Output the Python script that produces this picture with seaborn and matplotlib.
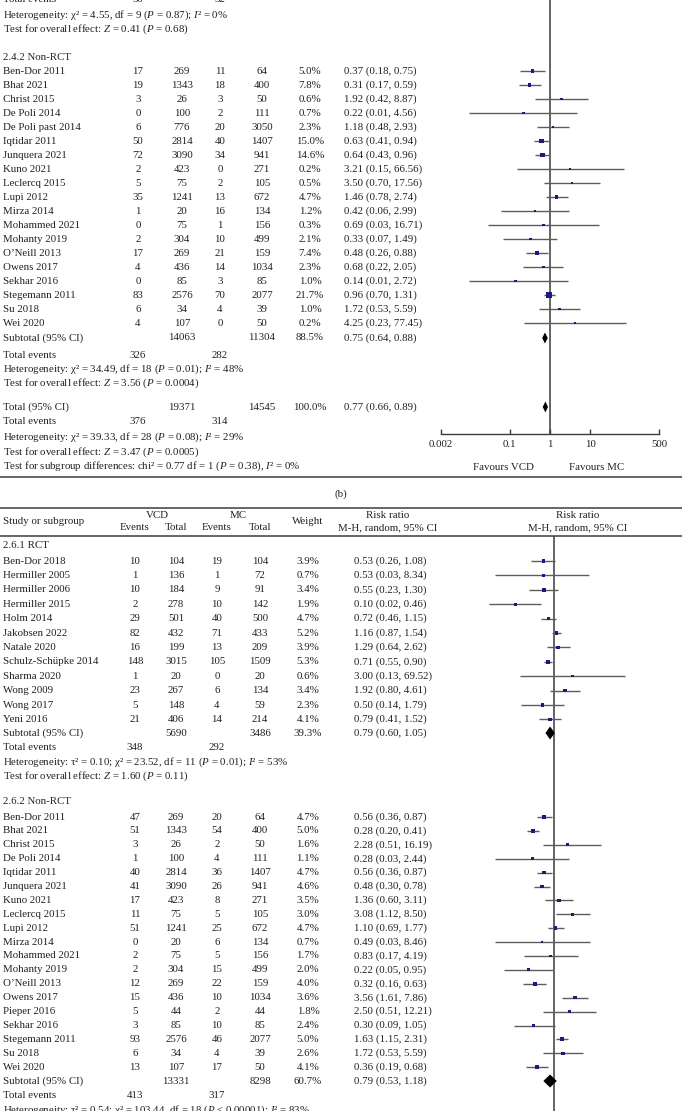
import numpy as np
import pandas as pd
import matplotlib
matplotlib.use("Agg")
import matplotlib.pyplot as plt
import seaborn as sns

# ---------------- DATA ----------------
# Panel (b): 2.4.2 Non-RCT
b_names = ["Ben-Dor 2011", "Bhat 2021", "Christ 2015", "De Poli 2014", "De Poli past 2014",
           "Iqtidar 2011", "Junquera 2021", "Kuno 2021", "Leclercq 2015", "Lupi 2012",
           "Mirza 2014", "Mohammed 2021", "Mohanty 2019", "O\u2019Neill 2013", "Owens 2017",
           "Sekhar 2016", "Stegemann 2011", "Su 2018", "Wei 2020"]
b_vcd_ev = [17, 19, 3, 0, 6, 50, 72, 2, 5, 35, 1, 0, 2, 17, 4, 0, 83, 6, 4]
b_vcd_tot = [269, 1343, 26, 100, 776, 2814, 3090, 423, 75, 1241, 20, 75, 304, 269, 436, 85, 2576, 34, 107]
b_mc_ev = [11, 18, 3, 2, 20, 40, 34, 0, 2, 13, 16, 1, 10, 21, 14, 3, 70, 4, 0]
b_mc_tot = [64, 400, 50, 111, 3050, 1407, 941, 271, 105, 672, 134, 156, 499, 159, 1034, 85, 2077, 39, 50]
b_weight = [5.0, 7.8, 0.6, 0.7, 2.3, 15.0, 14.6, 0.2, 0.5, 4.7, 1.2, 0.3, 2.1, 7.4, 2.3, 1.0, 21.7, 1.0, 0.2]
b_rr = [0.37, 0.31, 1.92, 0.22, 1.18, 0.63, 0.64, 3.21, 3.50, 1.46, 0.42, 0.69, 0.33, 0.48, 0.68, 0.14, 0.96, 1.72, 4.25]
b_lo = [0.18, 0.17, 0.42, 0.01, 0.48, 0.41, 0.43, 0.15, 0.70, 0.78, 0.06, 0.03, 0.07, 0.26, 0.22, 0.01, 0.70, 0.53, 0.23]
b_hi = [0.75, 0.59, 8.87, 4.56, 2.93, 0.94, 0.96, 66.56, 17.56, 2.74, 2.99, 16.71, 1.49, 0.88, 2.05, 2.72, 1.31, 5.59, 77.45]
b_sub = dict(vcd_tot=14063, mc_tot=11304, weight="88.5%", rr=0.75, lo=0.64, hi=0.88, ev1=326, ev2=282)
b_total = dict(vcd_tot=19371, mc_tot=14545, weight="100.0%", rr=0.77, lo=0.66, hi=0.89, ev1=376, ev2=314)
b_ticks = [0.002, 0.1, 1, 10, 500]
b_ticklabels = ["0.002", "0.1", "1", "10", "500"]

# Panel (c): 2.6.1 RCT
c1_names = ["Ben-Dor 2018", "Hermiller 2005", "Hermiller 2006", "Hermiller 2015", "Holm 2014",
            "Jakobsen 2022", "Natale 2020", "Schulz-Sch\u00fcpke 2014", "Sharma 2020", "Wong 2009",
            "Wong 2017", "Yeni 2016"]
c1_vcd_ev = [10, 1, 10, 2, 29, 82, 16, 148, 1, 23, 5, 21]
c1_vcd_tot = [104, 136, 184, 278, 501, 432, 199, 3015, 20, 267, 148, 406]
c1_mc_ev = [19, 1, 9, 10, 40, 71, 13, 105, 0, 6, 4, 14]
c1_mc_tot = [104, 72, 91, 142, 500, 433, 209, 1509, 20, 134, 59, 214]
c1_weight = [3.9, 0.7, 3.4, 1.9, 4.7, 5.2, 3.9, 5.3, 0.6, 3.4, 2.3, 4.1]
c1_rr = [0.53, 0.53, 0.55, 0.10, 0.72, 1.16, 1.29, 0.71, 3.00, 1.92, 0.50, 0.79]
c1_lo = [0.26, 0.03, 0.23, 0.02, 0.46, 0.87, 0.64, 0.55, 0.13, 0.80, 0.14, 0.41]
c1_hi = [1.08, 8.34, 1.30, 0.46, 1.15, 1.54, 2.62, 0.90, 69.52, 4.61, 1.79, 1.52]
c1_sub = dict(vcd_tot=5690, mc_tot=3486, weight="39.3%", rr=0.79, lo=0.60, hi=1.05, ev1=348, ev2=292)

# Panel (c): 2.6.2 Non-RCT
c2_names = ["Ben-Dor 2011", "Bhat 2021", "Christ 2015", "De Poli 2014", "Iqtidar 2011",
            "Junquera 2021", "Kuno 2021", "Leclercq 2015", "Lupi 2012", "Mirza 2014",
            "Mohammed 2021", "Mohanty 2019", "O\u2019Neill 2013", "Owens 2017", "Pieper 2016",
            "Sekhar 2016", "Stegemann 2011", "Su 2018", "Wei 2020"]
c2_vcd_ev = [47, 51, 3, 1, 40, 41, 17, 11, 51, 0, 2, 2, 12, 15, 5, 3, 93, 6, 13]
c2_vcd_tot = [269, 1343, 26, 100, 2814, 3090, 423, 75, 1241, 20, 75, 304, 269, 436, 44, 85, 2576, 34, 107]
c2_mc_ev = [20, 54, 2, 4, 36, 26, 8, 5, 25, 6, 5, 15, 22, 10, 2, 10, 46, 4, 17]
c2_mc_tot = [64, 400, 50, 111, 1407, 941, 271, 105, 672, 134, 156, 499, 159, 1034, 44, 85, 2077, 39, 50]
c2_weight = [4.7, 5.0, 1.6, 1.1, 4.7, 4.6, 3.5, 3.0, 4.7, 0.7, 1.7, 2.0, 4.0, 3.6, 1.8, 2.4, 5.0, 2.6, 4.1]
c2_rr = [0.56, 0.28, 2.28, 0.28, 0.56, 0.48, 1.36, 3.08, 1.10, 0.49, 0.83, 0.22, 0.32, 3.56, 2.50, 0.30, 1.63, 1.72, 0.36]
c2_lo = [0.36, 0.20, 0.51, 0.03, 0.36, 0.30, 0.60, 1.12, 0.69, 0.03, 0.17, 0.05, 0.16, 1.61, 0.51, 0.09, 1.15, 0.53, 0.19]
c2_hi = [0.87, 0.41, 16.19, 2.44, 0.87, 0.78, 3.11, 8.50, 1.77, 8.46, 4.19, 0.95, 0.63, 7.86, 12.21, 1.05, 2.31, 5.59, 0.68]
c2_sub = dict(vcd_tot=13331, mc_tot=8298, weight="60.7%", rr=0.79, lo=0.53, hi=1.18, ev1=413, ev2=317)

# ---------------- STYLE ----------------
sns.set_theme(style="white")
plt.rcParams["font.family"] = ["Liberation Serif", "DejaVu Serif"]
plt.rcParams["mathtext.fontset"] = "custom"
plt.rcParams["mathtext.rm"] = "Liberation Serif"
plt.rcParams["mathtext.it"] = "Liberation Serif:italic"
TXT = "#231f20"
FS = 7.8
LINE = "#5c5c5c"
SQ = "#1c1c78"
RULE = "#5a5a5a"

fig = plt.figure(figsize=(6.82, 11.11), dpi=100)
W, H = 682.0, 1111.0
lay = fig.add_axes([0, 0, 1, 1])
lay.set_xlim(0, W)
lay.set_ylim(H, 0)
lay.axis("off")


def t(x, y, s, ha="left", fs=FS, **kw):
    lay.text(x, y, s, ha=ha, va="center", fontsize=fs, color=TXT, **kw)


def ci_str(r, l, h):
    return f"{r:.2f} ({l:.2f}, {h:.2f})"


def forest_axes(x0, x1, y0, y1, xlim):
    ax = fig.add_axes([x0 / W, 1 - y1 / H, (x1 - x0) / W, (y1 - y0) / H])
    ax.set_xscale("log")
    ax.set_xlim(*xlim)
    ax.set_ylim(y1, y0)
    ax.set_facecolor("none")
    for s in ["top", "left", "right", "bottom"]:
        ax.spines[s].set_visible(False)
    ax.tick_params(which="both", left=False, bottom=False, labelleft=False, labelbottom=False)
    ax.minorticks_off()
    ax.axvline(1, color="#3a3a3a", lw=1.1, zorder=1)
    return ax


def study_rows(ax, ys, names, e1, n1, e2, n2, w, rr, lo, hi, cols, size_rng, size_norm):
    for i, y in enumerate(ys):
        t(3, y, names[i])
        t(cols[0], y, str(e1[i]), ha="center")
        t(cols[1], y, str(n1[i]), ha="center")
        t(cols[2], y, str(e2[i]), ha="center")
        t(cols[3], y, str(n2[i]), ha="center")
        t(cols[4], y, f"{w[i]:.1f}%", ha="center")
        t(cols[5], y, ci_str(rr[i], lo[i], hi[i]))
    df = pd.DataFrame({"rr": rr, "y": ys, "w": w, "lo": lo, "hi": hi})
    ax.hlines(df["y"], df["lo"], df["hi"], color=LINE, lw=1.0, zorder=2)
    sns.scatterplot(data=df, x="rr", y="y", size="w", sizes=size_rng, size_norm=size_norm,
                    marker="s", color=SQ, edgecolor="none", legend=False, ax=ax, zorder=3)
    ax.set_xlabel("")
    ax.set_ylabel("")


def diamond(ax, y, r, l, h, half):
    ax.fill([l, r, h, r], [y, y - half, y, y + half], color="black", zorder=4, lw=0)


def subtotal_row(ax, y, sub, cols, label="Subtotal (95% CI)", half=5):
    t(3, y, label)
    t(cols[1], y, str(sub["vcd_tot"]), ha="center")
    t(cols[3], y, str(sub["mc_tot"]), ha="center")
    t(cols[4], y, sub["weight"], ha="center")
    t(cols[5], y, ci_str(sub["rr"], sub["lo"], sub["hi"]))
    diamond(ax, y, sub["rr"], sub["lo"], sub["hi"], half)


def events_row(y, a, b, cols):
    t(3, y, "Total events")
    t(cols[0], y, str(a), ha="center")
    t(cols[2], y, str(b), ha="center")


# ---------------- PANEL (b) ----------------
colsb = [138, 182, 220, 262, 310, 344]
axb = forest_axes(441, 659, -2, 434, (0.002, 500))
axb.spines["bottom"].set_visible(True)
axb.spines["bottom"].set_color("#3a3a3a")
axb.spines["bottom"].set_linewidth(1.0)
axb.set_xticks(b_ticks)
axb.set_xticklabels(b_ticklabels)
axb.tick_params(axis="x", which="major", bottom=True, labelbottom=True, direction="in",
                length=3.5, width=1.0, color="#3a3a3a", labelsize=FS, labelcolor=TXT, pad=4)
axb.minorticks_off()

events_row(0, 50, 32, colsb)
t(3, 15, "Heterogeneity: χ² = 4.55, df = 9 ($P$ = 0.87); $I$² = 0%")
t(3, 29, "Test for overall effect: $Z$ = 0.41 ($P$ = 0.68)")
t(3, 57, "2.4.2 Non-RCT")
yb = [71 + 14.0 * i for i in range(len(b_names))]
study_rows(axb, yb, b_names, b_vcd_ev, b_vcd_tot, b_mc_ev, b_mc_tot, b_weight, b_rr, b_lo, b_hi,
           colsb, (2.0, 17.0), (0, 22))
subtotal_row(axb, 338, b_sub, colsb, half=5.5)
events_row(355, b_sub["ev1"], b_sub["ev2"], colsb)
t(3, 369, "Heterogeneity: χ² = 34.49, df = 18 ($P$ = 0.01); $I$² = 48%")
t(3, 383, "Test for overall effect: $Z$ = 3.56 ($P$ = 0.0004)")
subtotal_row(axb, 407, b_total, colsb, label="Total (95% CI)", half=5.5)
events_row(422, b_total["ev1"], b_total["ev2"], colsb)
t(3, 437, "Heterogeneity: χ² = 39.33, df = 28 ($P$ = 0.08); $I$² = 29%")
t(3, 452, "Test for overall effect: $Z$ = 3.47 ($P$ = 0.0005)")
t(3, 466, "Test for subgroup differences: chi² = 0.77 df = 1 ($P$ = 0.38), $I$² = 0%")
t(503, 467, "Favours VCD", ha="center")
t(597, 467, "Favours MC", ha="center")

lay.hlines([477, 508, 536], 0, W, color=RULE, lw=1.3)
t(341, 494, "(b)", ha="center")

# ---------------- PANEL (c) ----------------
colsc = [135, 176, 217, 260, 308, 354]
t(3, 521, "Study or subgroup")
t(157, 515, "VCD", ha="center")
t(238, 515, "MC", ha="center")
t(colsc[0], 528, "Events", ha="center")
t(colsc[1], 528, "Total", ha="center")
t(colsc[2], 528, "Events", ha="center")
t(colsc[3], 528, "Total", ha="center")
t(308, 521, "Weight", ha="center")
t(388, 515, "Risk ratio", ha="center")
t(388, 528, "M-H, random, 95% CI", ha="center")
t(578, 515, "Risk ratio", ha="center")
t(578, 528, "M-H, random, 95% CI", ha="center")

axc = forest_axes(438.5, 669.5, 536, H, (0.001, 1000))
t(3, 546, "2.6.1 RCT")
yc1 = [561 + 14.4 * i for i in range(len(c1_names))]
study_rows(axc, yc1, c1_names, c1_vcd_ev, c1_vcd_tot, c1_mc_ev, c1_mc_tot, c1_weight, c1_rr, c1_lo, c1_hi,
           colsc, (2.5, 8.0), (0, 5.3))
subtotal_row(axc, 733, c1_sub, colsc, half=6.5)
events_row(748, c1_sub["ev1"], c1_sub["ev2"], colsc)
t(3, 762, "Heterogeneity: τ² = 0.10; χ² = 23.52, df = 11 ($P$ = 0.01); $I$² = 53%")
t(3, 776, "Test for overall effect: $Z$ = 1.60 ($P$ = 0.11)")
t(3, 802, "2.6.2 Non-RCT")
yc2 = [817 + 13.9 * i for i in range(len(c2_names))]
study_rows(axc, yc2, c2_names, c2_vcd_ev, c2_vcd_tot, c2_mc_ev, c2_mc_tot, c2_weight, c2_rr, c2_lo, c2_hi,
           colsc, (2.5, 8.0), (0, 5.3))
subtotal_row(axc, 1081, c2_sub, colsc, half=6.5)
events_row(1096, c2_sub["ev1"], c2_sub["ev2"], colsc)
t(3, 1110, "Heterogeneity: τ² = 0.54; χ² = 103.44, df = 18 ($P$ < 0.00001); $I$² = 83%")

fig.savefig("out.png", dpi=100)
